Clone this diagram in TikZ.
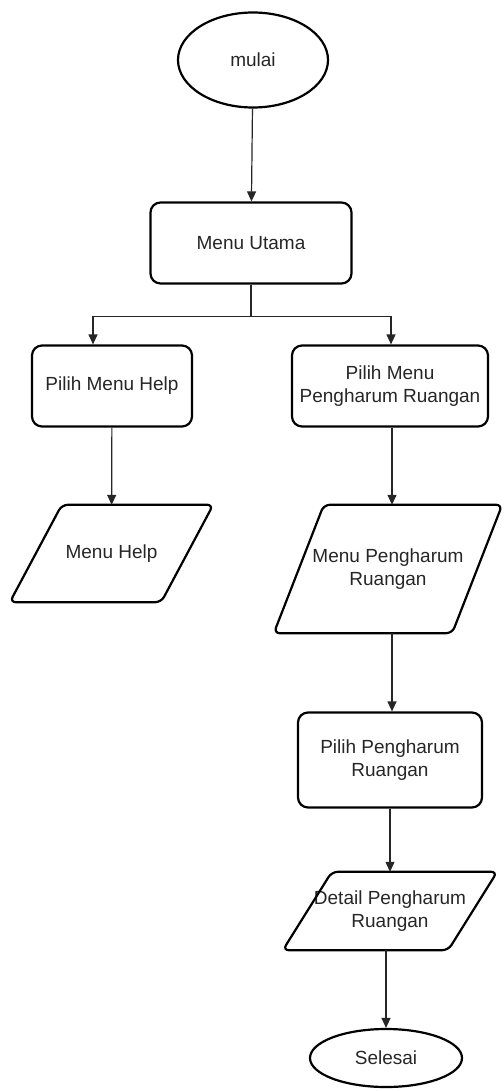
\documentclass[tikz,border=0pt]{standalone}
\usepackage{fontspec}
\setmainfont{Liberation Sans}
\usepackage{tikz}
\usetikzlibrary{shapes.geometric, arrows.meta, calc, positioning}

\begin{document}
\begin{tikzpicture}[
	%	style def
    x=1pt, y=-1pt,
    every node/.style={text=black!85, font=\fontsize{19}{23}\selectfont, align=center, inner sep=0pt},
    shape line/.style={line width=2.2pt, line join=round},
    terminal/.style={ellipse, draw, shape line},
    process/.style={rectangle, draw, shape line, rounded corners=10pt},
    io/.style={rectangle, draw=none},
    flow/.style={line width=1.2pt, draw=black!85, -{Triangle[length=10pt, width=9pt]}},
    flow line/.style={line width=1.2pt, draw=black!85}
    ]
	\useasboundingbox (0,0) rectangle (503,1091);

	% start and main menu
	\node[terminal, minimum width=150, minimum height=95] (mulai) at (253,60) {mulai};
	\node[process, minimum width=201, minimum height=81] (utama) at (251,243) {Menu Utama};

	% left branch
	\node[process, minimum width=160, minimum height=81] (help) at (112,386) {Pilih Menu Help};
	\node[io, minimum width=203, minimum height=97] (menuhelp) at (111.5,553.5) {Menu Help};

	% right branch
	\node[process, minimum width=196, minimum height=81] (pilihmenu) at (390,386) {Pilih Menu\\Pengharum Ruangan};
	\node[io, minimum width=228, minimum height=128] (menupengharum) at (388,569) {Menu Pengharum\\Ruangan};
	\node[process, minimum width=184, minimum height=95] (pilihpengharum) at (390,760) {Pilih Pengharum\\Ruangan};
	\node[io, minimum width=214, minimum height=78] (detail) at (390,911) {Detail Pengharum\\Ruangan};
	\node[terminal, minimum width=152, minimum height=58] (selesai) at (386,1058) {Selesai};

	% parallelogram borders
	\foreach \n/\off in {menuhelp/52, menupengharum/50, detail/49}{
		\draw[shape line, rounded corners=6pt]
			($(\n.north west)+(\off,0)$) -- (\n.north east)
			-- ($(\n.south east)-(\off,0)$) -- (\n.south west) -- cycle;
	}

	% connections
	\draw[flow] (mulai) -- (utama);
	\draw[flow line] (utama.south) -- ++(0,32) coordinate (split);
	\draw[flow] (split) -| ([xshift=-19pt]help.north);
	\draw[flow] (split) -| ([xshift=1pt]pilihmenu.north);
	\draw[flow] (help) -- (menuhelp);
	\draw[flow] ([xshift=2pt]pilihmenu.south) -- ([xshift=4pt]menupengharum.north);
	\draw[flow] ([xshift=4pt]menupengharum.south) -- ([xshift=2pt]pilihpengharum.north);
	\draw[flow] (pilihpengharum) -- (detail);
	\draw[flow] (selesai.north |- detail.south) -- (selesai.north);
\end{tikzpicture}
\end{document}
